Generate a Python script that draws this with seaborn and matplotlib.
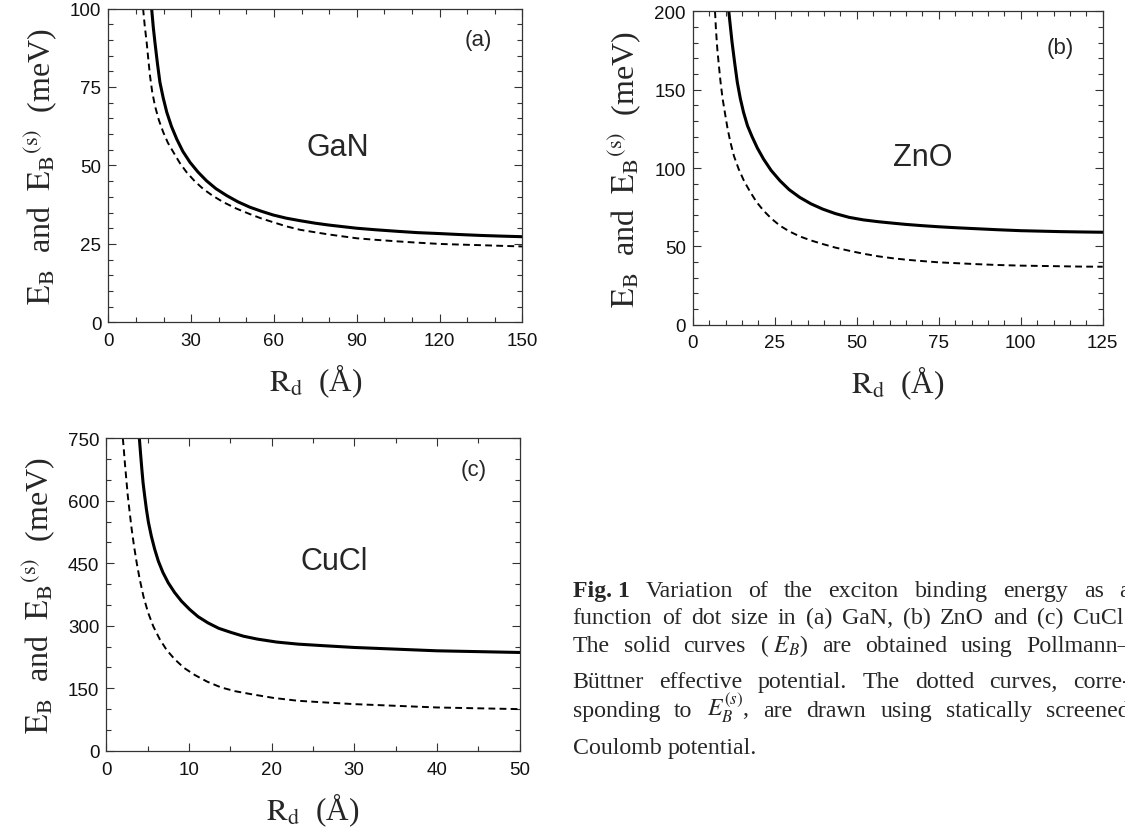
import matplotlib
matplotlib.use('Agg')
import matplotlib.pyplot as plt
import seaborn as sns
from matplotlib.ticker import MultipleLocator

# (a) GaN
rd_gan_solid = [15.7, 16.3, 16.9, 17.8, 18.7, 19.9, 21.2, 22.9, 24.8, 27.0, 29.6, 32.5, 35.6, 39.0, 42.9, 47,
                51.3, 55.5, 59.8, 64.5, 69.5, 75, 80, 85, 90, 97, 105, 112, 120, 127, 135, 142, 150]
eb_gan_solid = [100, 94, 89.2, 82.5, 76.5, 71.5, 66.9, 62.4, 58.4, 54.5, 51.0, 47.9, 45.1, 42.6, 40.4, 38.4,
                36.7, 35.4, 34.2, 33.2, 32.4, 31.6, 31.0, 30.5, 30.0, 29.5, 29.0, 28.6, 28.3, 28.0, 27.7, 27.5, 27.3]
rd_gan_dash = [12.6, 13.2, 13.9, 14.5, 15.1, 15.9, 16.9, 18.3, 19.9, 21.6, 23.6, 25.9, 28.4, 31.3, 34.4, 37.9,
               41.7, 46.3, 51.3, 55.5, 59.8, 64.5, 69.5, 75, 80, 85, 90, 97, 105, 112, 120, 127, 135, 142, 150]
eb_gan_dash = [100, 94.5, 89.2, 83.8, 78.6, 73.5, 69.0, 64.5, 60.6, 57.2, 54.2, 50.8, 47.8, 45.0, 42.5, 40.3,
               38.3, 36.3, 34.5, 33.1, 31.9, 30.6, 29.5, 28.7, 28.0, 27.4, 26.8, 26.3, 25.8, 25.4, 25.0, 24.8,
               24.6, 24.4, 24.2]

# (b) ZnO
rd_zno_solid = [11.0, 11.5, 12.0, 12.8, 13.6, 14.5, 15.5, 16.7, 18.1, 19.7, 21.6, 23.9, 26.6, 29.4, 32.6, 36,
                39.6, 43.5, 47.7, 52, 56.7, 61, 65, 70, 75, 81, 87, 93, 100, 106, 112, 118, 125]
eb_zno_solid = [200, 190, 180.2, 167, 154.7, 144.5, 135.5, 127.0, 120.0, 112.8, 105.7, 98.5, 91.9, 86.2, 81.3,
                77.2, 73.8, 70.9, 68.5, 66.9, 65.7, 64.8, 64.0, 63.2, 62.5, 61.8, 61.2, 60.6, 60.0, 59.7, 59.4,
                59.2, 59.0]
rd_zno_dash = [6.8, 7.1, 7.5, 8.0, 8.5, 9.1, 9.8, 10.6, 11.5, 12.6, 14.0, 15.7, 17.6, 19.5, 21.6, 24.0, 26.6,
               29.5, 32.6, 36, 39.6, 43.5, 47.7, 52, 56.7, 61, 65, 70, 75, 81, 87, 93, 100, 106, 112, 118, 125]
eb_zno_dash = [200, 188, 176, 165, 154.7, 144.5, 135.5, 125.5, 116.4, 107.5, 99.4, 91.5, 84.5, 78.2, 72.8, 67.7,
               63.2, 59.5, 56.4, 53.8, 51.5, 49.2, 47.2, 45.3, 43.6, 42.4, 41.5, 40.6, 39.8, 39.2, 38.6, 38.1,
               37.7, 37.5, 37.3, 37.1, 37.0]

# (c) CuCl
rd_cucl_solid = [4.0, 4.15, 4.3, 4.45, 4.64, 4.85, 5.1, 5.45, 5.85, 6.3, 6.85, 7.5, 8.26, 9.1, 10.1, 11.1, 12.3,
                 13.6, 15.1, 16.6, 18.3, 20.6, 23.2, 26.5, 30, 35, 40, 45, 50]
eb_cucl_solid = [750, 712, 676, 643, 612, 580, 548, 515, 484, 455, 428, 403, 380, 359, 339, 322, 307, 294, 284,
                 275, 268, 261, 256, 252, 248, 244, 240, 238, 236]
rd_cucl_dash = [2.0, 2.1, 2.25, 2.42, 2.6, 2.83, 3.07, 3.35, 3.67, 4.04, 4.5, 5.05, 5.7, 6.46, 7.3, 8.26, 9.4,
                10.7, 12.2, 13.9, 15.6, 17.5, 20.2, 23.2, 26.5, 30, 35, 40, 45, 50]
eb_cucl_dash = [750, 728, 690, 652, 612, 572, 532, 492, 452, 412, 370, 332, 298, 268, 242, 220, 199, 182, 166,
                152, 143, 136, 127, 120, 116, 112, 108, 104, 102, 100]

caption = [
    ['Fig. 1', 'Variation', 'of', 'the', 'exciton', 'binding', 'energy', 'as', 'a'],
    ['function', 'of', 'dot', 'size', 'in', '(a)', 'GaN,', '(b)', 'ZnO', 'and', '(c)', 'CuCl.'],
    ['The', 'solid', 'curves', '( $E_B$)', 'are', 'obtained', 'using', 'Pollmann\u2013'],
    ['B\u00fcttner', 'effective', 'potential.', 'The', 'dotted', 'curves,', 'corre-'],
    ['sponding', 'to', '$E_B^{(s)}$,', 'are', 'drawn', 'using', 'statically', 'screened'],
    ['Coulomb', 'potential.'],
]

sns.set_theme(style='ticks')
plt.rcParams['font.family'] = ['Liberation Sans', 'DejaVu Sans']
plt.rcParams['mathtext.fontset'] = 'stix'

W, H = 1125, 837
fig = plt.figure(figsize=(W / 100, H / 100), dpi=100)
fig.patch.set_facecolor('white')

panels = [
    dict(box=(108.3, 522.3, 9.5, 323.4), xmax=150, ymax=100, xt=(30, 10), yt=(25, 5),
         solid=(rd_gan_solid, eb_gan_solid), dash=(rd_gan_dash, eb_gan_dash),
         name='GaN', name_xy=(83, 56), tag='(a)', tag_xy=(134, 90)),
    dict(box=(692.7, 1102.7, 12.3, 325.7), xmax=125, ymax=200, xt=(25, 5), yt=(50, 10),
         solid=(rd_zno_solid, eb_zno_solid), dash=(rd_zno_dash, eb_zno_dash),
         name='ZnO', name_xy=(70, 107), tag='(b)', tag_xy=(112, 177)),
    dict(box=(106.3, 519.6, 439.3, 751.8), xmax=50, ymax=750, xt=(10, 5), yt=(150, 50),
         solid=(rd_cucl_solid, eb_cucl_solid), dash=(rd_cucl_dash, eb_cucl_dash),
         name='CuCl', name_xy=(27.6, 456), tag='(c)', tag_xy=(44.4, 675)),
]

serif = ['Liberation Serif', 'DejaVu Serif']

for p in panels:
    x0, x1, y0, y1 = p['box']
    ax = fig.add_axes([x0 / W, 1 - y1 / H, (x1 - x0) / W, (y1 - y0) / H])
    ax.set_facecolor('white')

    sns.lineplot(x=p['solid'][0], y=p['solid'][1], ax=ax, color='black', linewidth=2.2,
                 sort=False, estimator=None)
    sns.lineplot(x=p['dash'][0], y=p['dash'][1], ax=ax, color='black', linewidth=1.4,
                 linestyle=(0, (3.5, 2.2)), sort=False, estimator=None)

    ax.set_xlim(0, p['xmax'])
    ax.set_ylim(0, p['ymax'])
    ax.xaxis.set_major_locator(MultipleLocator(p['xt'][0]))
    ax.xaxis.set_minor_locator(MultipleLocator(p['xt'][1]))
    ax.yaxis.set_major_locator(MultipleLocator(p['yt'][0]))
    ax.yaxis.set_minor_locator(MultipleLocator(p['yt'][1]))
    ax.tick_params(which='both', direction='in', top=True, right=True, color='#333333', width=0.8)
    ax.tick_params(which='major', length=6, labelsize=13.5, labelcolor='#111111')
    ax.tick_params(which='minor', length=3.5)
    ax.tick_params(axis='x', which='major', pad=7)
    ax.tick_params(axis='y', which='major', pad=5)
    for sp in ax.spines.values():
        sp.set_visible(True)
        sp.set_color('#333333')
        sp.set_linewidth(0.9)

    ax.set_xlabel('$\\mathrm{R_d}$  (\u00c5)', fontfamily=serif, fontsize=22.5, labelpad=9)
    ax.set_ylabel(r'$\mathrm{E_B}$  and  $\mathrm{E_B{}^{(s)}}$  (meV)', fontfamily=serif,
                  fontsize=23, labelpad=8)

    ax.text(p['name_xy'][0], p['name_xy'][1], p['name'], fontsize=22, ha='center', va='center')
    ax.text(p['tag_xy'][0], p['tag_xy'][1], p['tag'], fontsize=16, ha='center', va='center')

# caption, justified line by line
renderer = fig.canvas.get_renderer()
cap_x0, cap_x1 = 572.7, 1130
baselines = [596.7, 624, 651.7, 688.3, 716.7, 754]
for i, (words, yb) in enumerate(zip(caption, baselines)):
    texts = []
    for j, w in enumerate(words):
        bold = (i == 0 and j == 0)
        t = fig.text(0, 1 - yb / H, w, fontfamily=serif, fontsize=17.2,
                     fontweight='bold' if bold else 'normal', va='baseline', ha='left')
        texts.append(t)
    widths = [t.get_window_extent(renderer=renderer).width for t in texts]
    if i == len(caption) - 1:
        gap = 6
    else:
        gap = (cap_x1 - cap_x0 - sum(widths)) / (len(words) - 1)
    x = cap_x0
    for t, w in zip(texts, widths):
        t.set_x(x / W)
        x += w + gap

fig.savefig('out.png', dpi=100, facecolor='white')
